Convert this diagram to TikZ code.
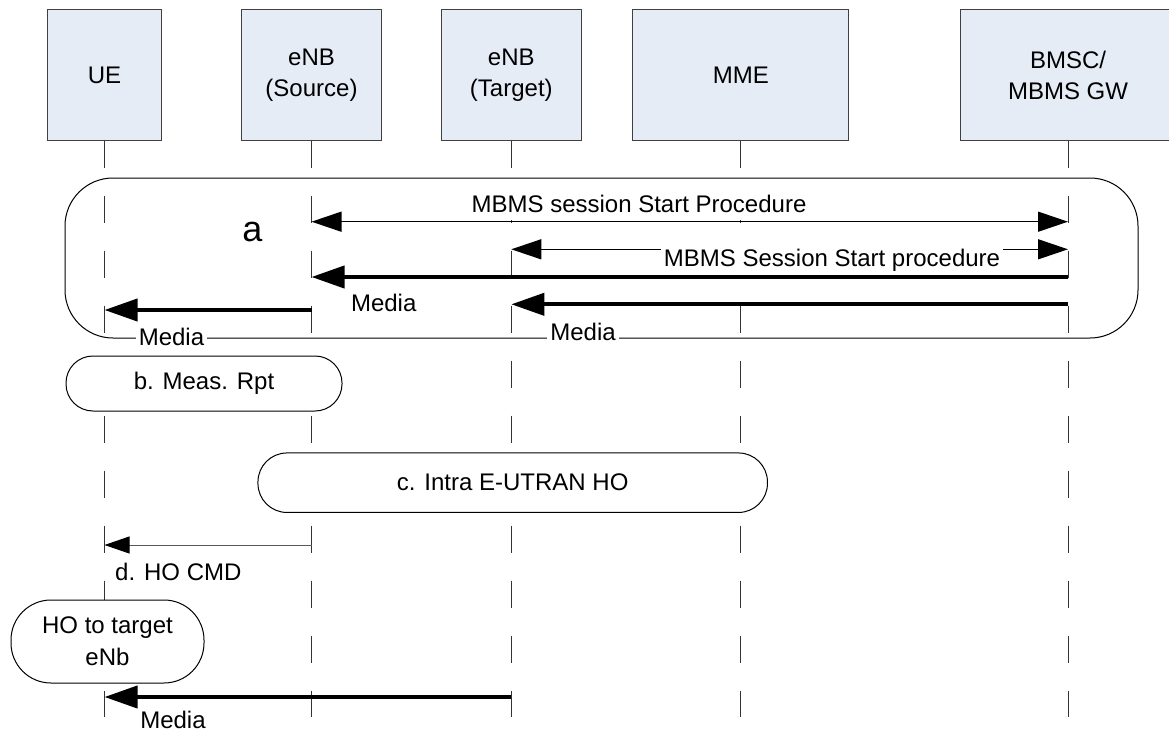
\documentclass[tikz,border=0pt]{standalone}
\usepackage{fontspec}
\setmainfont{Liberation Sans}
\usetikzlibrary{arrows.meta,calc}
\definecolor{hdrfill}{RGB}{230,236,246}
\definecolor{hdrline}{RGB}{64,64,64}

\begin{document}
\begin{tikzpicture}[x=1pt,y=-1pt,
  every node/.style={font=\fontsize{24}{31}\selectfont, inner sep=0pt},
  entity/.style={draw=hdrline, line width=1pt, fill=hdrfill, align=center, minimum height=130pt},
  lifeline/.style={draw=black!80, line width=1pt, dash pattern=on 27pt off 28pt},
  procbox/.style={draw=black, line width=1pt, fill=white, align=center},
  msglabel/.style={fill=white, inner xsep=3pt, inner ysep=3pt, text height=17pt, text depth=5pt},
  thinmsg/.style={line width=1.3pt, arrows={Triangle[length=30pt,width=20pt]-Triangle[length=30pt,width=20pt]}},
  thickmsg/.style={line width=4pt, arrows={-Triangle[length=33pt,width=22pt]}},
  cmdmsg/.style={draw=black!65, line width=1pt, arrows={-Triangle[length=25pt,width=17pt,color=black]}}
]
\useasboundingbox (0,0) rectangle (1169,733);

% network entities
\node[entity, minimum width=114pt] (ue)  at (104.5,75) {UE};
\node[entity, minimum width=140pt] (src) at (311.5,75) {eNB\\(Source)};
\node[entity, minimum width=140pt] (tgt) at (511.3,75) {eNB\\(Target)};
\node[entity, minimum width=216pt] (mme) at (740.8,75) {MME};
\node[entity, minimum width=216pt] (bm)  at (1068,75) {BMSC/\\MBMS GW};

% lifelines
\foreach \n in {ue,src,tgt,mme,bm}{
  \coordinate (\n-end) at (\n.south |- 0,717);
  \draw[lifeline] (\n.south) -- (\n-end);
}

% step a: session start and media delivery
\node[draw=black, line width=1pt, rounded corners=48pt,
      minimum width=1073pt, minimum height=160pt] (procA) at (601.5,258) {};
\node[font=\fontsize{36}{40}\selectfont, anchor=base] (alabel) at (252.5,241) {a};

\coordinate (m1a) at (src.south |- 0,221.7);
\coordinate (m1b) at (bm.south |- 0,221.7);
\draw[thinmsg] (m1a) -- (m1b);
\node[msglabel, anchor=base] (m1t) at (639,212) {MBMS session Start Procedure};

\coordinate (m2a) at (tgt.south |- 0,249.3);
\coordinate (m2b) at (bm.south |- 0,249.3);
\draw[thinmsg] (m2a) -- (m2b);
\node[msglabel, anchor=base] (m2t) at (832,266.7) {MBMS Session Start procedure};

\coordinate (t1a) at (bm.south |- 0,277);
\coordinate (t1b) at (src.south |- 0,277);
\draw[thickmsg] (t1a) -- (t1b);
\node[msglabel, anchor=base] (t1t) at (383.7,311.7) {Media};

\coordinate (t2a) at (bm.south |- 0,304.3);
\coordinate (t2b) at (tgt.south |- 0,304.3);
\draw[thickmsg] (t2a) -- (t2b);
\node[msglabel, anchor=base] (t2t) at (583,340) {Media};

\coordinate (t3a) at (src.south |- 0,310);
\coordinate (t3b) at (ue.south |- 0,310);
\draw[thickmsg] (t3a) -- (t3b);
\node[msglabel, anchor=base] (t3t) at (171.5,345) {Media};

% step b
\node[procbox, rounded corners=27pt, minimum width=276pt, minimum height=55pt]
  (measrpt) at (204,383.5) {b. Meas. Rpt};

% step c
\node[procbox, rounded corners=29pt, minimum width=509.5pt, minimum height=59.5pt]
  (intraho) at (512.7,482.7) {c. Intra E-UTRAN HO};

% step d
\coordinate (dA) at (src.south |- 0,545);
\coordinate (dB) at (ue.south |- 0,545);
\draw[cmdmsg] (dA) -- (dB);
\node[anchor=base west] (dt) at (115,580) {d. HO CMD};

% handover at the UE
\node[procbox, rounded corners=40pt, minimum width=193pt, minimum height=83pt,
      font=\fontsize{24}{32}\selectfont] (hotgt) at (107.5,641.5) {HO to target\\eNb};

\coordinate (t4a) at (tgt.south |- 0,697);
\coordinate (t4b) at (ue.south |- 0,697);
\draw[thickmsg] (t4a) -- (t4b);
\node[anchor=base] (t4t) at (173,728) {Media};
\end{tikzpicture}
\end{document}
